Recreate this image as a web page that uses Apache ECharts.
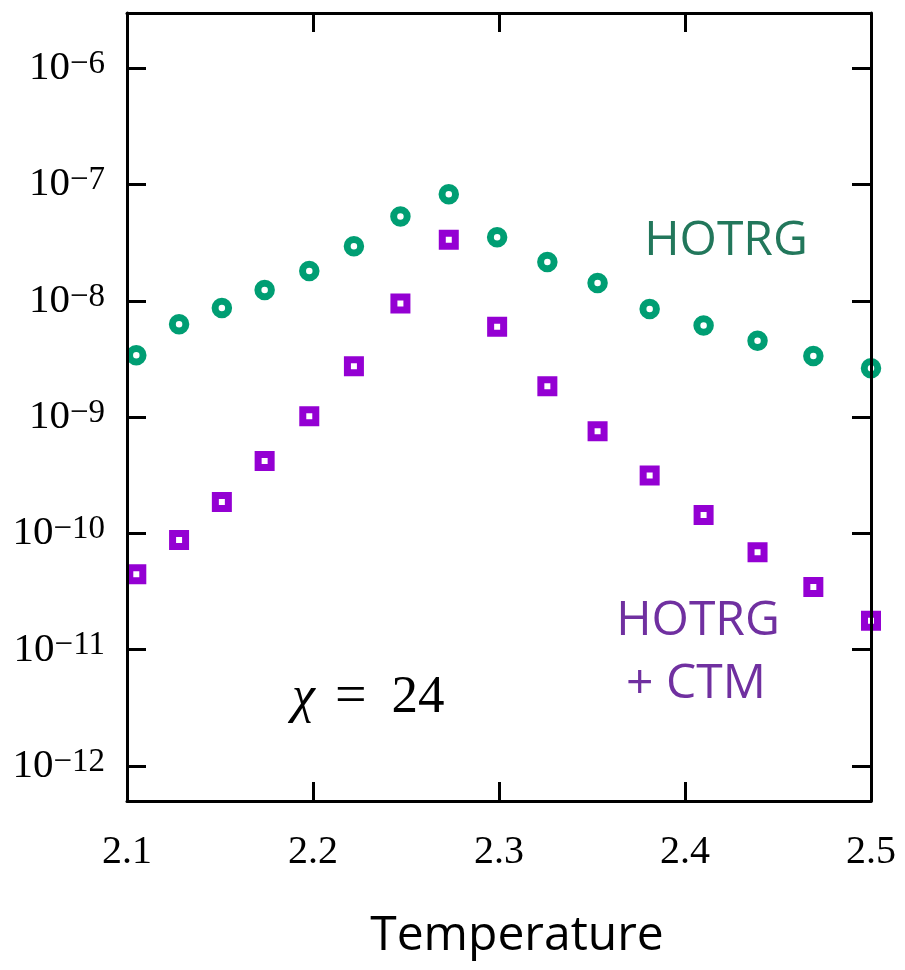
<!DOCTYPE html>
<html>
<head>
<meta charset="utf-8">
<script src="https://cdn.jsdelivr.net/npm/echarts@6/dist/echarts.min.js"></script>
<style>
  html, body { margin: 0; padding: 0; background: #fff; }
  #main { width: 905px; height: 970px; }
</style>
</head>
<body>
<div id="main"></div>
<script>
// temperature points
const temps = [2.105, 2.128, 2.151, 2.174, 2.198, 2.222, 2.247, 2.273,
  2.299, 2.326, 2.353, 2.381, 2.41, 2.439, 2.469, 2.5];
// HOTRG only
const hotrg = [3.42e-9, 6.3e-9, 8.7e-9, 1.24e-8, 1.81e-8, 2.95e-8, 5.34e-8, 8.28e-8,
  3.54e-8, 2.16e-8, 1.43e-8, 8.53e-9, 6.15e-9, 4.54e-9, 3.37e-9, 2.64e-9];
// HOTRG + CTM
const hotrgCtm = [4.45e-11, 8.8e-11, 1.87e-10, 4.2e-10, 1.02e-9, 2.74e-9, 9.5e-9, 3.36e-8,
  6.0e-9, 1.85e-9, 7.57e-10, 3.16e-10, 1.44e-10, 6.9e-11, 3.47e-11, 1.78e-11];
const xTicks = [2.1, 2.2, 2.3, 2.4, 2.5];

const myChart = echarts.init(document.getElementById("main"));

const serif = "Liberation Serif";
const sans = "Open Sans";

function powLabel(value) {
  const e = Math.log10(value);
  if (Math.abs(e - Math.round(e)) > 1e-6) return "";
  return "{b|10}{s|\u2212" + Math.abs(Math.round(e)) + "}";
}

const frameLine = { show: true, onZero: false, lineStyle: { color: "#000", width: 3 } };
const innerTick = { show: true, inside: true, length: 19, lineStyle: { color: "#000", width: 3 } };

// free text on the plot
function label(text, x, y, opts) {
  return {
    type: "text", x: x, y: y, z: 10,
    style: Object.assign({
      text: text, fill: "#000", textAlign: "center", textVerticalAlign: "middle",
      fontFamily: sans, fontSize: 48,
    }, opts),
  };
}

const option = {
  backgroundColor: "#fff",
  animation: false,
  grid: { left: 127, right: 34, top: 13, bottom: 169 },
  xAxis: [
    {
      type: "value",
      min: 2.1,
      max: 2.5,
      interval: 0.1,
      position: "bottom",
      z: 5,
      axisLine: frameLine,
      axisTick: innerTick,
      splitLine: { show: false },
      axisLabel: {
        margin: 31,
        fontFamily: serif,
        fontSize: 40,
        lineHeight: 40,
        color: "#000",
        formatter: (v) => (xTicks.some((t) => Math.abs(t - v) < 1e-9) ? v.toFixed(1) : ""),
      },
    },
    {
      type: "value",
      min: 2.1,
      max: 2.5,
      interval: 0.1,
      position: "top",
      z: 5,
      axisLine: frameLine,
      axisTick: innerTick,
      splitLine: { show: false },
      axisLabel: { show: false },
    },
  ],
  yAxis: [
    {
      type: "log",
      logBase: 10,
      min: 5e-13,
      max: 3e-6,
      position: "left",
      z: 5,
      axisLine: frameLine,
      axisTick: innerTick,
      splitLine: { show: false },
      axisLabel: {
        margin: 22,
        showMinLabel: false,
        showMaxLabel: false,
        color: "#000",
        formatter: powLabel,
        rich: {
          b: { fontFamily: serif, fontSize: 41, lineHeight: 41, verticalAlign: "bottom", color: "#000" },
          s: { fontFamily: serif, fontSize: 33, lineHeight: 33, verticalAlign: "top", padding: [0, 0, 16, 0], color: "#000" },
        },
      },
    },
    {
      type: "log",
      logBase: 10,
      min: 5e-13,
      max: 3e-6,
      position: "right",
      z: 5,
      axisLine: frameLine,
      axisTick: innerTick,
      splitLine: { show: false },
      axisLabel: { show: false },
    },
  ],
  series: [
    {
      name: "HOTRG",
      type: "scatter",
      symbol: "circle",
      symbolSize: 13.5,
      clip: false,
      data: temps.map((t, i) => [t, hotrg[i]]),
      itemStyle: { color: "#fff", borderColor: "#009e73", borderWidth: 7, opacity: 1 },
    },
    {
      name: "HOTRG + CTM",
      type: "scatter",
      symbol: "rect",
      symbolSize: 13,
      clip: false,
      data: temps.map((t, i) => [t, hotrgCtm[i]]),
      itemStyle: { color: "#fff", borderColor: "#9400d3", borderWidth: 7, opacity: 1 },
    },
  ],
  graphic: [
    label("Temperature", 517, 936, {}),
    label("HOTRG", 726, 241, { fill: "#22775b" }),
    label("HOTRG", 698, 621, { fill: "#7030a0" }),
    label("+ CTM", 696, 684, { fill: "#7030a0" }),
    label("{i|\u03c7}{g|}{e|=}{h|}{n|24}", 292, 698, {
      textAlign: "left",
      rich: {
        i: { fontFamily: serif, fontSize: 52, fontStyle: "italic", fill: "#000" },
        g: { width: 20 },
        h: { width: 25 },
        e: { fontFamily: serif, fontSize: 56, fill: "#000" },
        n: { fontFamily: serif, fontSize: 53, fill: "#000" },
      },
    }),
  ],
};

myChart.setOption(option);
</script>
</body>
</html>
